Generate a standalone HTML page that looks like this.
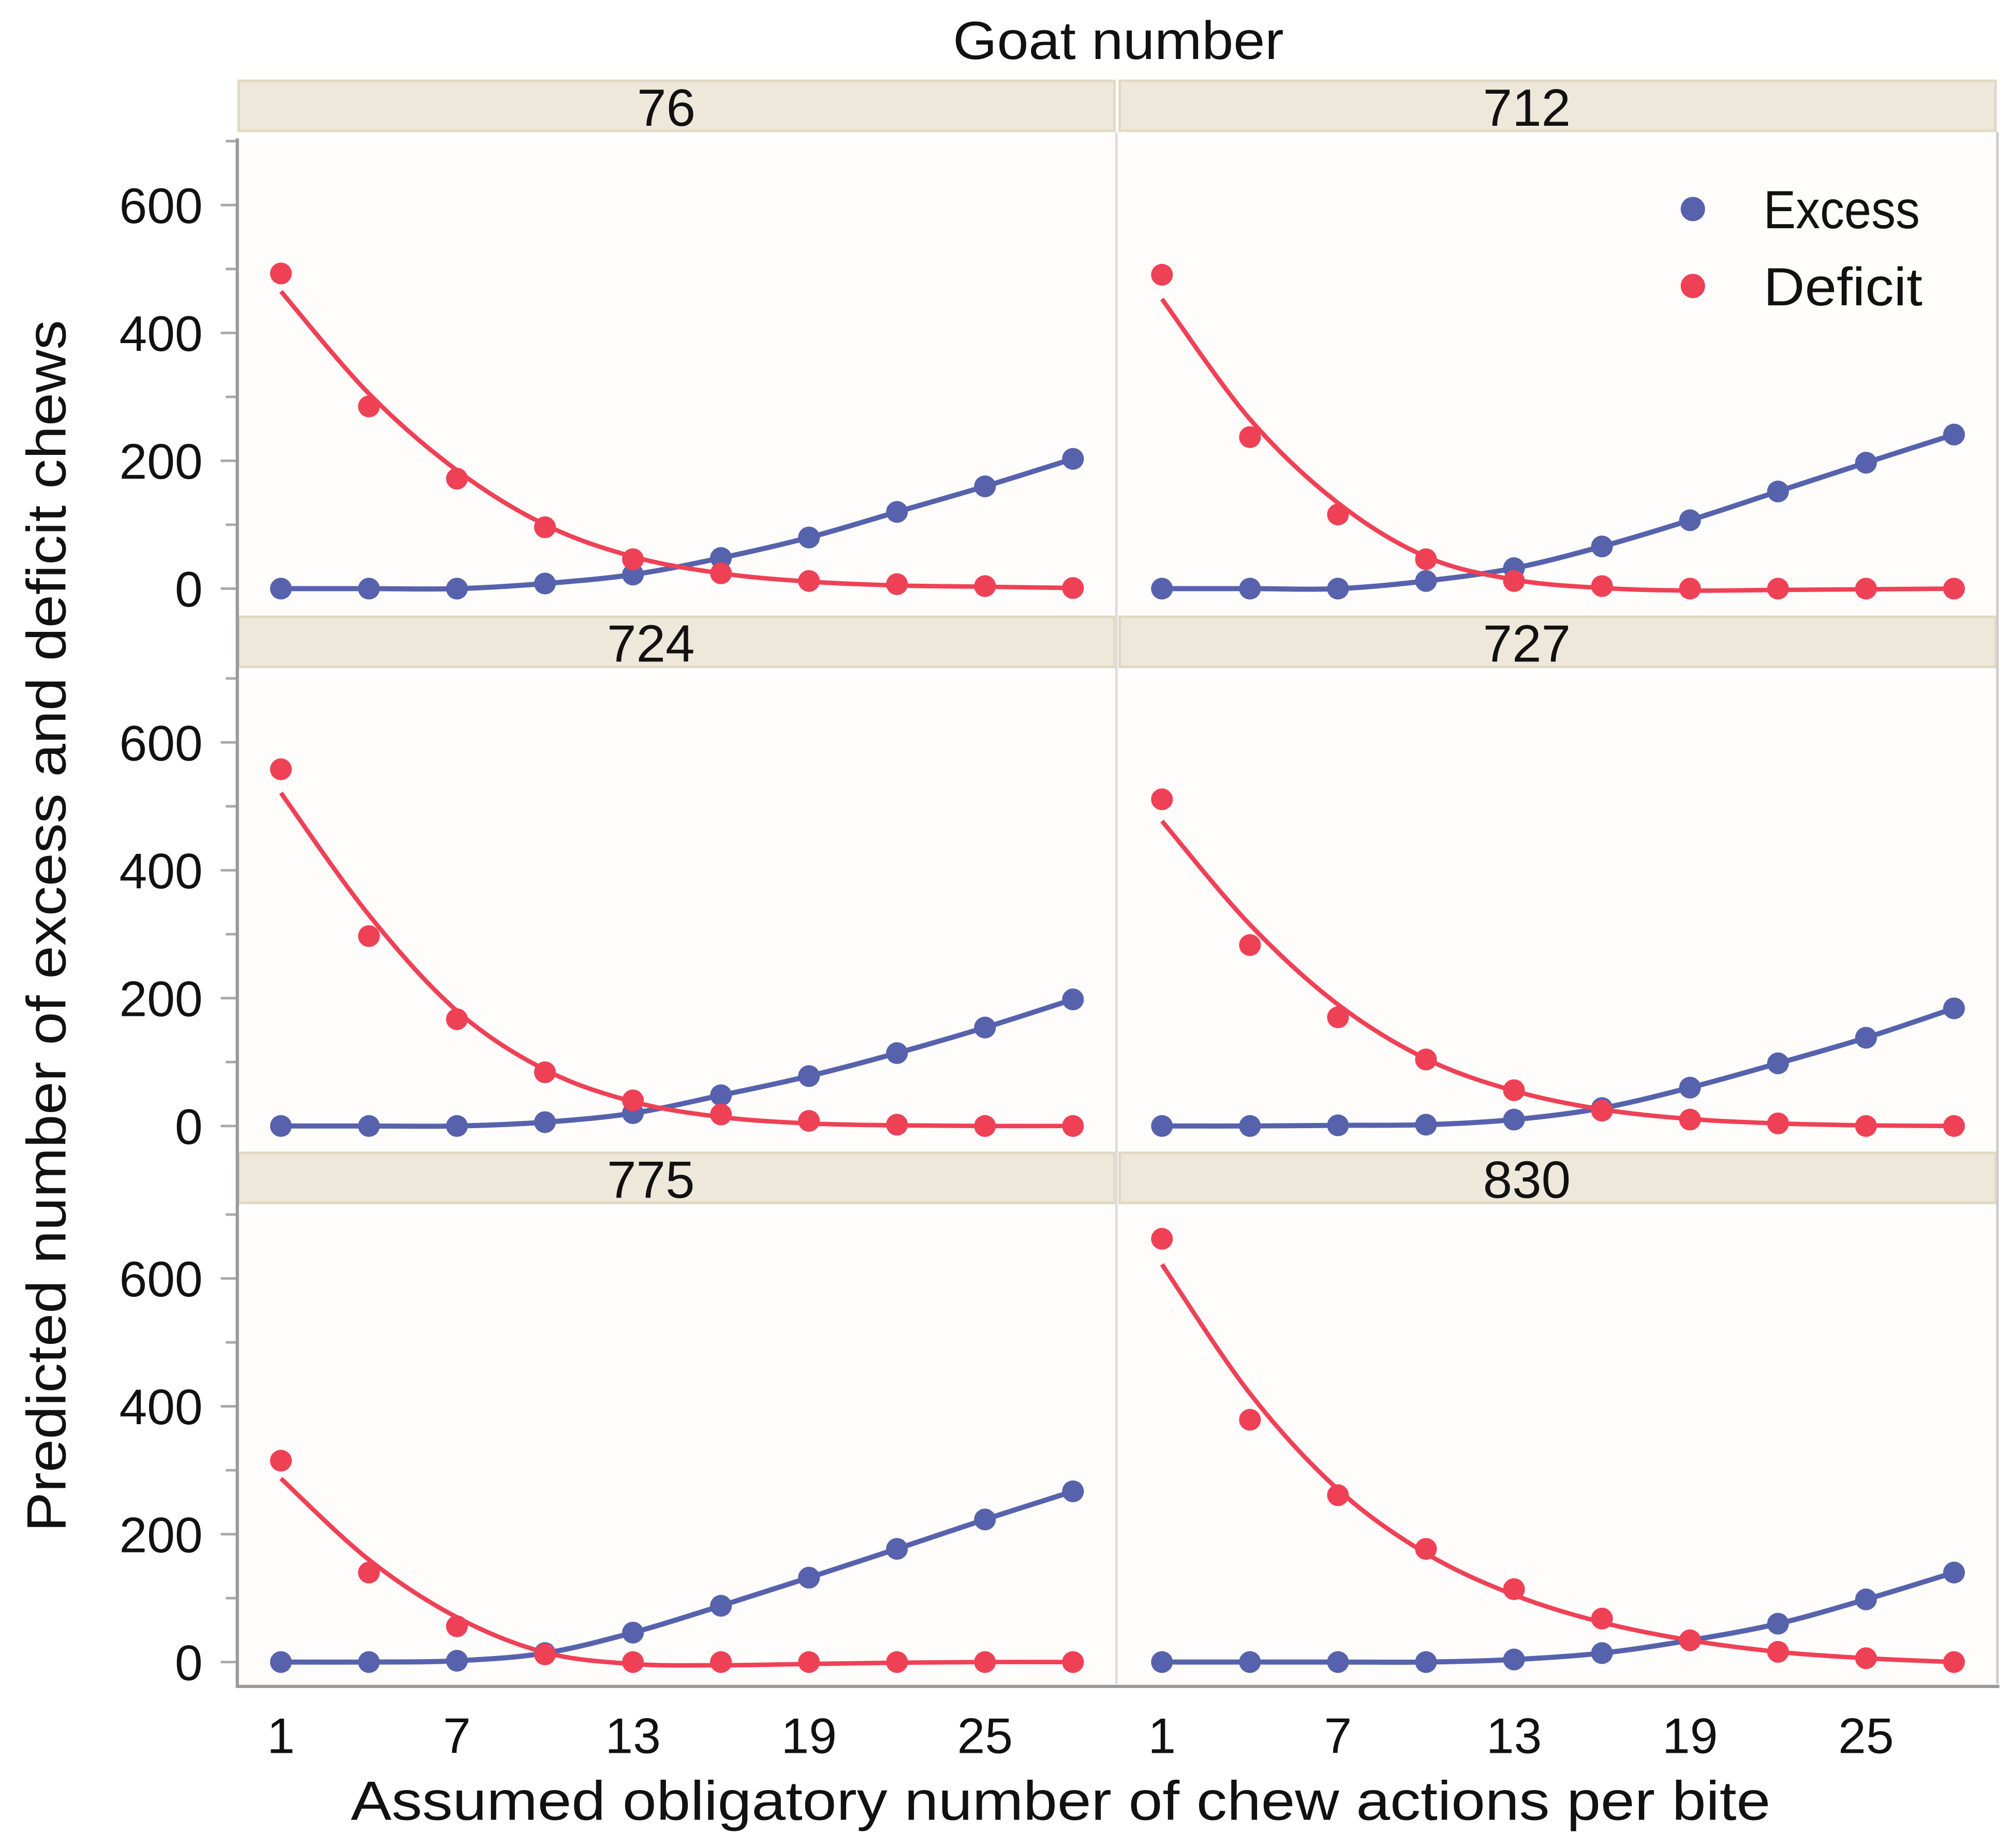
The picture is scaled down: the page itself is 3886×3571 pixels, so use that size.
<!DOCTYPE html>
<html><head><meta charset="utf-8"><style>
html,body{margin:0;padding:0;background:#fff;}
svg{display:block;font-family:"Liberation Sans",sans-serif;}
</style></head><body>
<svg id="chart" width="3886" height="3571" viewBox="0 0 1568 1441" xmlns="http://www.w3.org/2000/svg">
<rect x="0" y="0" width="1568" height="1441" fill="#ffffff"/>
</svg>
<script>
const goats = ["76","712","724","727","775","830"];
const xCats = [1,4,7,10,13,16,19,22,25,28];
const xTicks = [1,7,13,19,25];
const yTicks = [0,200,400,600];
const yMinor = [100,300,500,700];
const deficit76 = [493,285,172,96,46,24,12,7,4,1];
const excess76 = [0,0,0,8,22,48,80,120,160,203];
const fitD76 = [465,305,185,100,50,24,11,5,3,1];
const deficit712 = [491,237,116,46,12,4,0,0,0,0];
const excess712 = [0,0,0,12,32,66,107,152,197,241];
const fitD712 = [453,265,134,50,14,1,-3,-2,-1,0];
const deficit724 = [558,297,167,84,40,18,8,2,0,0];
const excess724 = [0,0,0,6,20,48,78,114,154,198];
const fitD724 = [521,330,180,88,38,14,4,1,0,0];
const deficit727 = [511,283,170,104,56,24,10,4,0,0];
const excess727 = [0,0,1,2,10,28,60,98,138,184];
const fitD727 = [477,315,190,105,55,26,11,4,1,0];
const deficit775 = [315,140,56,12,0,0,0,0,0,0];
const excess775 = [0,0,2,14,46,88,132,177,223,267];
const fitD775 = [287,160,70,15,-3,-5,-3,-1,0,0];
const deficit830 = [662,379,261,177,114,68,34,16,6,0];
const excess830 = [0,0,0,0,4,14,34,60,98,140];
const fitD830 = [622,420,270,170,105,62,34,16,6,0];

const deficits = [deficit76,deficit712,deficit724,deficit727,deficit775,deficit830];
const excesses = [excess76,excess712,excess724,excess727,excess775,excess830];
const fits = [fitD76,fitD712,fitD724,fitD727,fitD775,fitD830];

const NS = "http://www.w3.org/2000/svg";
const svg = document.getElementById("chart");
const BLUE = "#5762ad", RED = "#ef4156";
function mk(tag, attrs, parent){ const e=document.createElementNS(NS,tag); for(const k in attrs) e.setAttribute(k,attrs[k]); (parent||svg).appendChild(e); return e; }

const colX = [185, 872], colW = 685;
const stripTop = [62, 480, 898], stripH = 41;
const zeroY = [459, 878, 1296];
const yScale = 99.7/200;
function xPix(col, v){ return colX[col] + 34 + (v-1)*22.875; }
function yPix(row, v){ return zeroY[row] - v*yScale; }
function spline(pts){
  let d = "M"+pts[0][0]+","+pts[0][1];
  for(let i=0;i<pts.length-1;i++){
    const p0=pts[Math.max(0,i-1)], p1=pts[i], p2=pts[i+1], p3=pts[Math.min(pts.length-1,i+2)];
    const c1x=p1[0]+(p2[0]-p0[0])/6, c1y=p1[1]+(p2[1]-p0[1])/6;
    const c2x=p2[0]-(p3[0]-p1[0])/6, c2y=p2[1]-(p3[1]-p1[1])/6;
    d += " C"+c1x+","+c1y+" "+c2x+","+c2y+" "+p2[0]+","+p2[1];
  }
  return d;
}

const t = mk("text",{x:872,y:46,"text-anchor":"middle","font-size":42,fill:"#111",textLength:258,lengthAdjust:"spacingAndGlyphs"});
t.textContent="Goat number";



for(let p=0;p<6;p++){
  const row=Math.floor(p/2), col=p%2;
  const g = mk("g",{});
  
  
  const plotTop = stripTop[row]+stripH;
  const plotBot = row<2 ? stripTop[row+1] : 1313;
  const bg = mk("rect",{x:colX[col],y:plotTop,width:colW,height:plotBot-plotTop,fill:"#fefdfc"},g);
  
  
  const st = mk("rect",{x:colX[col]+1,y:stripTop[row]+1,width:colW-2,height:stripH-2,fill:"#ede8d9",stroke:"#e0d9c3","stroke-width":2},g);
  
  
  const off = col===1 ? -24 : (row===0 ? -8 : -20);
  const sl = mk("text",{x:colX[col]+colW/2 + off,y:stripTop[row]+36,"text-anchor":"middle","font-size":41,fill:"#111"},g);
  sl.textContent = goats[p];
  
  

  const ex = mk("path",{d:spline(xCats.map((c,i)=>[xPix(col,c),yPix(row,excesses[p][i])])),fill:"none",stroke:BLUE,"stroke-width":4},g);
  
  
  const df = mk("path",{d:spline(xCats.map((c,i)=>[xPix(col,c),yPix(row,fits[p][i])])),fill:"none",stroke:RED,"stroke-width":3.5},g);
  
  
  xCats.forEach((c,i)=>{
    const e = mk("circle",{cx:xPix(col,c),cy:yPix(row,excesses[p][i]),r:8.5,fill:BLUE},g);
    
    
  });
  xCats.forEach((c,i)=>{
    const e = mk("circle",{cx:xPix(col,c),cy:yPix(row,deficits[p][i]),r:8.5,fill:RED},g);
    
    
  });

  if(col===0){
    yTicks.forEach(v=>{
      const y=yPix(row,v);
      mk("line",{x1:172,x2:185,y1:y,y2:y,stroke:"#aaa","stroke-width":2},g);
      const tl = mk("text",{x:158,y:y+14,"text-anchor":"end","font-size":39,fill:"#111"},g);
      tl.textContent = v;
      
      
    });
    yMinor.forEach(v=>{
      const y=yPix(row,v);
      mk("line",{x1:176,x2:185,y1:y,y2:y,stroke:"#aaa","stroke-width":2},g);
    });
  }
  if(row===2){
    xTicks.forEach(v=>{
      const tl = mk("text",{x:xPix(col,v),y:1367,"text-anchor":"middle","font-size":39,fill:"#111"},g);
      tl.textContent = v;
      
      
    });
  }
}
mk("line",{x1:870.5,x2:870.5,y1:103,y2:1313,stroke:"#ddd","stroke-width":2});
mk("line",{x1:1557.5,x2:1557.5,y1:103,y2:1313,stroke:"#ccc","stroke-width":2});
const ya = mk("line",{x1:185,x2:185,y1:108,y2:1316,stroke:"#999","stroke-width":2.5});


const xa = mk("line",{x1:184,x2:1559,y1:1315,y2:1315,stroke:"#999","stroke-width":2.5});



const xt = mk("text",{x:827,y:1419,"text-anchor":"middle","font-size":43,fill:"#111",textLength:1107,lengthAdjust:"spacingAndGlyphs"});
xt.textContent="Assumed obligatory number of chew actions per bite";


const yt = mk("text",{x:0,y:0,"text-anchor":"middle","font-size":43,fill:"#111",textLength:945,lengthAdjust:"spacingAndGlyphs",transform:"translate(51,722) rotate(-90)"});
yt.textContent="Predicted number of excess and deficit chews";



const lg = mk("g",{});


const l1 = mk("circle",{cx:1320,cy:163,r:9.5,fill:BLUE},lg);


const lt1 = mk("text",{x:1375,y:178,"font-size":42,fill:"#111",textLength:122,lengthAdjust:"spacingAndGlyphs"},lg);
lt1.textContent="Excess";


const l2 = mk("circle",{cx:1320,cy:223,r:9.5,fill:RED},lg);


const lt2 = mk("text",{x:1375,y:238,"font-size":42,fill:"#111",textLength:124,lengthAdjust:"spacingAndGlyphs"},lg);
lt2.textContent="Deficit";


</script>
</body></html>
